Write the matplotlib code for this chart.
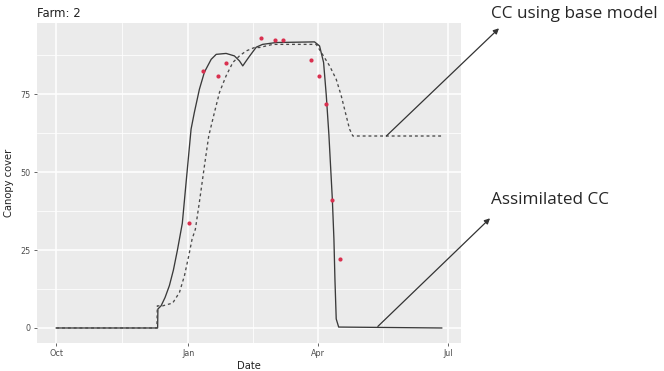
import pandas as pd
import matplotlib
matplotlib.use("Agg")
import matplotlib.pyplot as plt
import matplotlib.dates as mdates

# season start; all x values are days after this date
season_start = pd.Timestamp("2017-10-01")

# assimilated canopy cover (solid)
assim_days = [0, 70.6, 70.8, 73.0, 75.8, 78.8, 81.6, 84.4, 87.8, 91.1, 93.9, 96.2, 99.7,
              103.2, 107.9, 111.4, 118.3, 124.1, 127.6, 129.9, 132.3, 134.6, 139.3,
              143.7, 153.2, 179.9, 183.4, 186.2, 188.1, 189.9, 192.3, 193.4, 194.1,
              195.0, 196.7, 268.5]
assim_cc = [0, 0, 6.1, 7.1, 9.8, 13.6, 18.6, 25.0, 33.6, 50.0, 63.8, 69.2, 76.6,
            82.1, 86.2, 87.8, 88.1, 87.3, 85.7, 84.1, 85.7, 87.2, 90.1,
            91.0, 91.6, 91.8, 90.5, 85.2, 74.5, 62.0, 41.3, 28.5, 15.7,
            2.9, 0.3, 0]

# base model canopy cover (dashed)
base_days = [0, 70.1, 70.4, 74.1, 81.1, 85.8, 89.3, 92.3, 94.6, 96.9, 99.7, 103.2,
             106.2, 110.2, 113.7, 118.3, 123.0, 127.6, 132.3, 138.1, 141.6, 150.8,
             181.1, 184.6, 190.4, 195.0, 198.5, 202.0, 204.3, 206.6, 268.5]
base_cc = [0, 0, 7.1, 7.1, 8.0, 11.4, 16.8, 23.2, 28.5, 31.7, 40.4, 52.0,
           61.6, 69.2, 75.6, 80.9, 85.2, 87.3, 88.9, 90.0, 90.0, 91.0,
           91.0, 88.4, 84.1, 79.8, 74.5, 68.0, 63.8, 61.6, 61.6]

# observed canopy cover
obs_days = [92.3, 102.5, 112.5, 117.9, 142.7, 152.7, 157.8, 177.6, 182.7, 187.6, 192.3, 197.8]
obs_cc = [33.6, 82.4, 80.9, 85.0, 93.2, 92.3, 92.5, 86.0, 80.9, 72.0, 41.1, 22.1]

y_ticks = [0, 25, 50, 75]


def to_dates(days):
    return season_start + pd.to_timedelta(days, unit="D")


fig = plt.figure(figsize=(6.64, 3.71), dpi=100)
ax = fig.add_axes([0.0557, 0.0768, 0.6386, 0.8612])
ax.set_facecolor("#EBEBEB")
for s in ax.spines.values():
    s.set_visible(False)

ax.plot(to_dates(assim_days), assim_cc, color="#3a3a3a", lw=0.95, zorder=3)
ax.plot(to_dates(base_days), base_cc, color="#4a4a4a", lw=0.95,
        linestyle=(0, (2.2, 2.2)), zorder=3)
ax.scatter(to_dates(obs_days), obs_cc, s=9, color="#D9304F", zorder=4, linewidths=0)

# ggplot-style expansion of 5% on both axes
x0 = mdates.date2num(to_dates([0])[0])
x1 = mdates.date2num(to_dates([max(assim_days)])[0])
pad = 0.05 * (x1 - x0)
ax.set_xlim(x0 - pad, x1 + pad)
ymax = max(obs_cc)
ax.set_ylim(-0.05 * ymax, ymax * 1.05)

ax.xaxis.set_major_locator(mdates.MonthLocator(bymonth=[1, 4, 7, 10]))
ax.xaxis.set_major_formatter(mdates.DateFormatter("%b"))
majors = ax.get_xticks()
ax.set_xticks([(a + b) / 2 for a, b in zip(majors[:-1], majors[1:])], minor=True)
ax.set_yticks(y_ticks)
ax.set_yticks([t + 12.5 for t in y_ticks], minor=True)

ax.grid(which="major", color="white", lw=1.1)
ax.grid(which="minor", color="white", lw=0.55)
ax.set_axisbelow(True)
ax.tick_params(which="major", length=2.5, width=0.6, color="#4D4D4D",
               labelsize=5.8, labelcolor="#4D4D4D", pad=2)
ax.tick_params(which="minor", length=0)

ax.set_xlabel("Date", fontsize=7.2, color="#222222", labelpad=2)
ax.set_ylabel("Canopy cover", fontsize=7.2, color="#222222", labelpad=5)
ax.set_title("Farm: 2", loc="left", fontsize=8.4, color="#222222", pad=4)

# callouts from the curves to the labels
arrow = dict(arrowstyle="-|>", color="#333333", lw=0.9, mutation_scale=8,
             shrinkA=0, shrinkB=0)
ax.annotate("", xy=(0.7515, 0.9237), xycoords="figure fraction",
            xytext=(to_dates([229.9])[0], 61.6), textcoords="data", arrowprops=arrow)
ax.annotate("", xy=(0.738, 0.4116), xycoords="figure fraction",
            xytext=(to_dates([224.0])[0], 0.5), textcoords="data", arrowprops=arrow)
fig.text(0.739, 0.962, "CC using base model", family="Open Sans", fontsize=12.3,
         color="#262626", va="center", ha="left")
fig.text(0.739, 0.461, "Assimilated CC", family="Open Sans", fontsize=12.3,
         color="#262626", va="center", ha="left")

fig.savefig("out.png", dpi=100, facecolor="white")
